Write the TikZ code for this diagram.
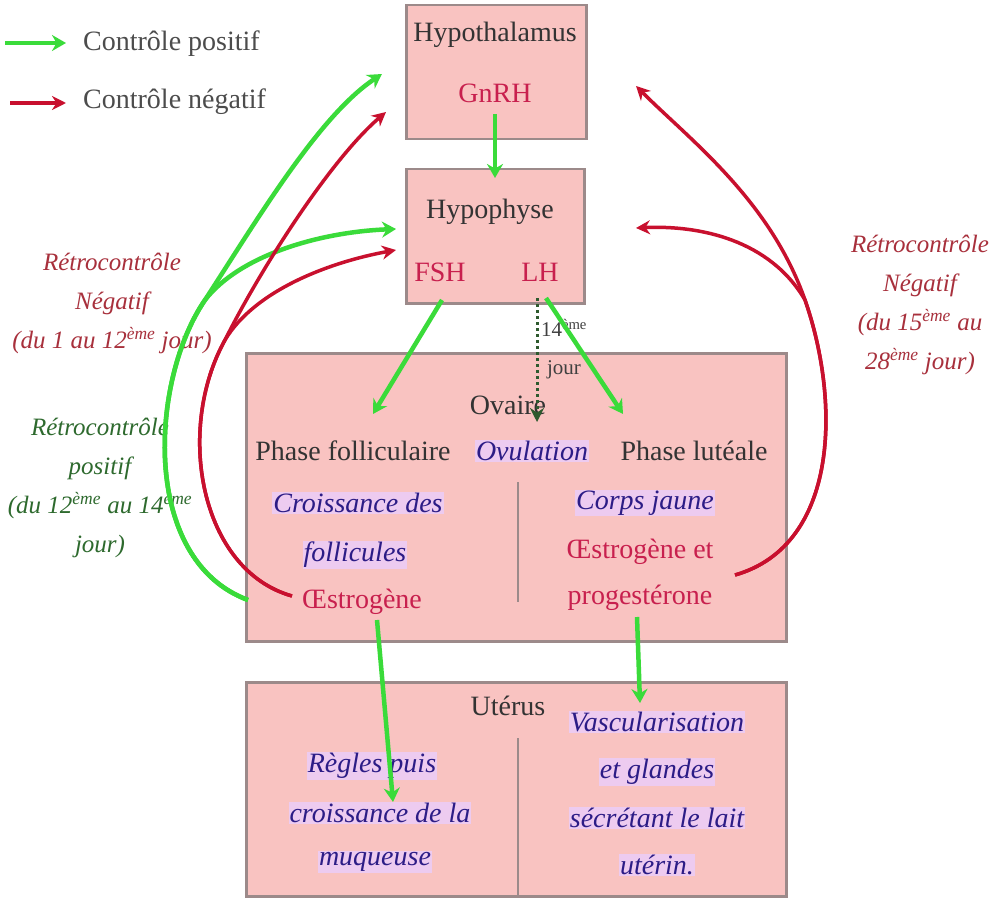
\documentclass[tikz,border=0pt]{standalone}
\usepackage{fontspec}
\setmainfont{Liberation Serif}
\usetikzlibrary{arrows.meta}
\definecolor{boxfill}{HTML}{F9C3C1}
\definecolor{boxline}{HTML}{9C8A8A}
\definecolor{poscol}{HTML}{3ADB3A}
\definecolor{negcol}{HTML}{C8102E}
\definecolor{hormone}{HTML}{C8204E}
\definecolor{bluetxt}{HTML}{2C1C86}
\definecolor{bluebg}{HTML}{EDCBF0}
\definecolor{redlab}{HTML}{A8303C}
\definecolor{greenlab}{HTML}{2E6A2E}
\definecolor{dashcol}{HTML}{2E5A2E}
\tikzset{
  box/.style={draw=boxline, line width=2.5pt, fill=boxfill, anchor=north west, inner sep=0pt},
  txt/.style={font=\fontsize{28}{40}\selectfont, inner sep=1pt, align=center},
  dark/.style={txt, text=black!80},
  horm/.style={txt, text=hormone},
  blu/.style={txt, text=bluetxt, font=\fontsize{28}{40}\selectfont\itshape, fill=bluebg},
  sidel/.style={txt, font=\fontsize{25}{39}\selectfont\itshape},
  redl/.style={sidel, text=redlab},
  greenl/.style={sidel, text=greenlab},
  posarr/.style={draw=poscol, line width=4.5pt, -{Stealth[length=14pt,width=16pt]}},
  negarr/.style={draw=negcol, line width=3.5pt, -{Stealth[length=14pt,width=14pt]}},
  divider/.style={draw=boxline, line width=1.5pt}
}
\begin{document}
\begin{tikzpicture}[x=1pt,y=-1pt]
\useasboundingbox[fill=white] (0,0) rectangle (1008,901);

% legend
\coordinate (lg1a) at (5,43); \coordinate (lg1b) at (66,43);
\coordinate (lg2a) at (10,103); \coordinate (lg2b) at (66,103);
\draw[posarr] (lg1a) -- (lg1b);
\draw[negarr] (lg2a) -- (lg2b);
\node[txt, text=black!70, anchor=west] (lgpos) at (82,44) {Contrôle positif};
\node[txt, text=black!70, anchor=west] (lgneg) at (82,102) {Contrôle négatif};

% boxes
\node[box, minimum width=180pt, minimum height=134pt] (hypoth) at (405,4) {};
\node[box, minimum width=178pt, minimum height=134pt] (hypoph) at (405,168) {};
\node[box, minimum width=540pt, minimum height=288pt] (ovaire) at (245,352) {};
\node[box, minimum width=540pt, minimum height=214pt] (uterus) at (245,681) {};
\coordinate (d1a) at (518,482); \coordinate (d1b) at (518,602);
\coordinate (d2a) at (518,738); \coordinate (d2b) at (518,895);
\draw[divider] (d1a) -- (d1b);
\draw[divider] (d2a) -- (d2b);

% texts in boxes
\node[dark] (thypoth) at (495,35) {Hypothalamus};
\node[horm] (gnrh) at (495,93) {GnRH};
\node[dark] (thypoph) at (490,212) {Hypophyse};
\node[horm] (fsh) at (440,272) {FSH};
\node[horm] (lh) at (540,272) {LH};
\node[dark] (tovaire) at (508,405) {Ovaire};
\node[dark] (pfol) at (353,451) {Phase folliculaire};
\node[blu] (ovul) at (532,451) {Ovulation};
\node[dark] (plut) at (694,451) {Phase lutéale};
\node[blu] (crois1) at (358,503) {Croissance des};
\node[blu] (crois2) at (355,555) {follicules};
\node[horm] (oestro) at (362,602) {Œstrogène};
\node[blu] (corps) at (645,503) {Corps jaune};
\node[horm] (oestro2) at (640,552) {Œstrogène et};
\node[horm] (proges) at (640,598) {progestérone};
\node[dark] (tuterus) at (508,706) {Utérus};
\node[blu] (regl1) at (372,766) {Règles puis};
\node[blu] (regl2) at (380,813) {croissance de la};
\node[blu] (regl3) at (375,862) {muqueuse};
\node[blu] (vasc1) at (657,722) {Vascularisation};
\node[blu] (vasc2) at (657,772) {et glandes};
\node[blu] (vasc3) at (657,818) {sécrétant le lait};
\node[blu] (vasc4) at (657,865) {utérin.};

% side labels
\node[redl] (lneg) at (112,303) {Rétrocontrôle\\Négatif\\(du 1 au 12\textsuperscript{ème} jour)};
\node[greenl] (lpos) at (100,488) {Rétrocontrôle\\positif\\(du 12\textsuperscript{ème} au 14\textsuperscript{ème}\\jour)};
\node[redl] (rneg) at (920,305) {Rétrocontrôle\\Négatif\\(du 15\textsuperscript{ème} au\\28\textsuperscript{ème} jour)};
\node[txt, text=black!75, font=\fontsize{21}{38}\selectfont] (j14) at (564,349) {14\textsuperscript{ème}\\jour};

% vertical arrows
\coordinate (g1) at (495,114); \coordinate (g2) at (495,178);
\draw[posarr] (g1) -- (g2);
\coordinate (f1) at (442,300); \coordinate (f2) at (373,414);
\draw[posarr] (f1) -- (f2);
\coordinate (l1) at (546,298); \coordinate (l2) at (623,414);
\draw[posarr] (l1) -- (l2);
\coordinate (l3) at (537,298); \coordinate (l4) at (537,422);
\draw[draw=dashcol, line width=3pt, dashed, -{Stealth[length=14pt,width=14pt]}] (l3) -- (l4);
\coordinate (o1) at (377,620); \coordinate (o2) at (393,802);
\draw[posarr] (o1) -- (o2);
\coordinate (p1) at (637,617); \coordinate (p2) at (640,703);
\draw[posarr] (p1) -- (p2);

% left feedback loops
\coordinate (gs) at (248,600);
\coordinate (gt1) at (382,74);
\coordinate (gt2) at (396,229);
\draw[posarr] (gs) .. controls (140,560) and (150,380) .. (205,300)
  .. controls (260,215) and (320,115) .. (gt1);
\draw[posarr] (gs) .. controls (140,560) and (150,380) .. (205,300)
  .. controls (240,255) and (320,232) .. (gt2);
\coordinate (rs) at (292,596);
\coordinate (rt1) at (386,112);
\coordinate (rt2) at (396,250);
\draw[negarr] (rs) .. controls (200,570) and (175,430) .. (225,340)
  .. controls (260,270) and (330,160) .. (rt1);
\draw[negarr] (rs) .. controls (200,570) and (175,430) .. (225,340)
  .. controls (255,290) and (330,262) .. (rt2);

% right feedback loops
\coordinate (qs) at (735,575);
\coordinate (qt1) at (636,86);
\coordinate (qt2) at (636,228);
\draw[negarr] (qs) .. controls (840,545) and (840,400) .. (805,300)
  .. controls (770,200) and (690,140) .. (qt1);
\draw[negarr] (qs) .. controls (840,545) and (840,400) .. (805,300)
  .. controls (770,240) and (700,225) .. (qt2);
\end{tikzpicture}
\end{document}
